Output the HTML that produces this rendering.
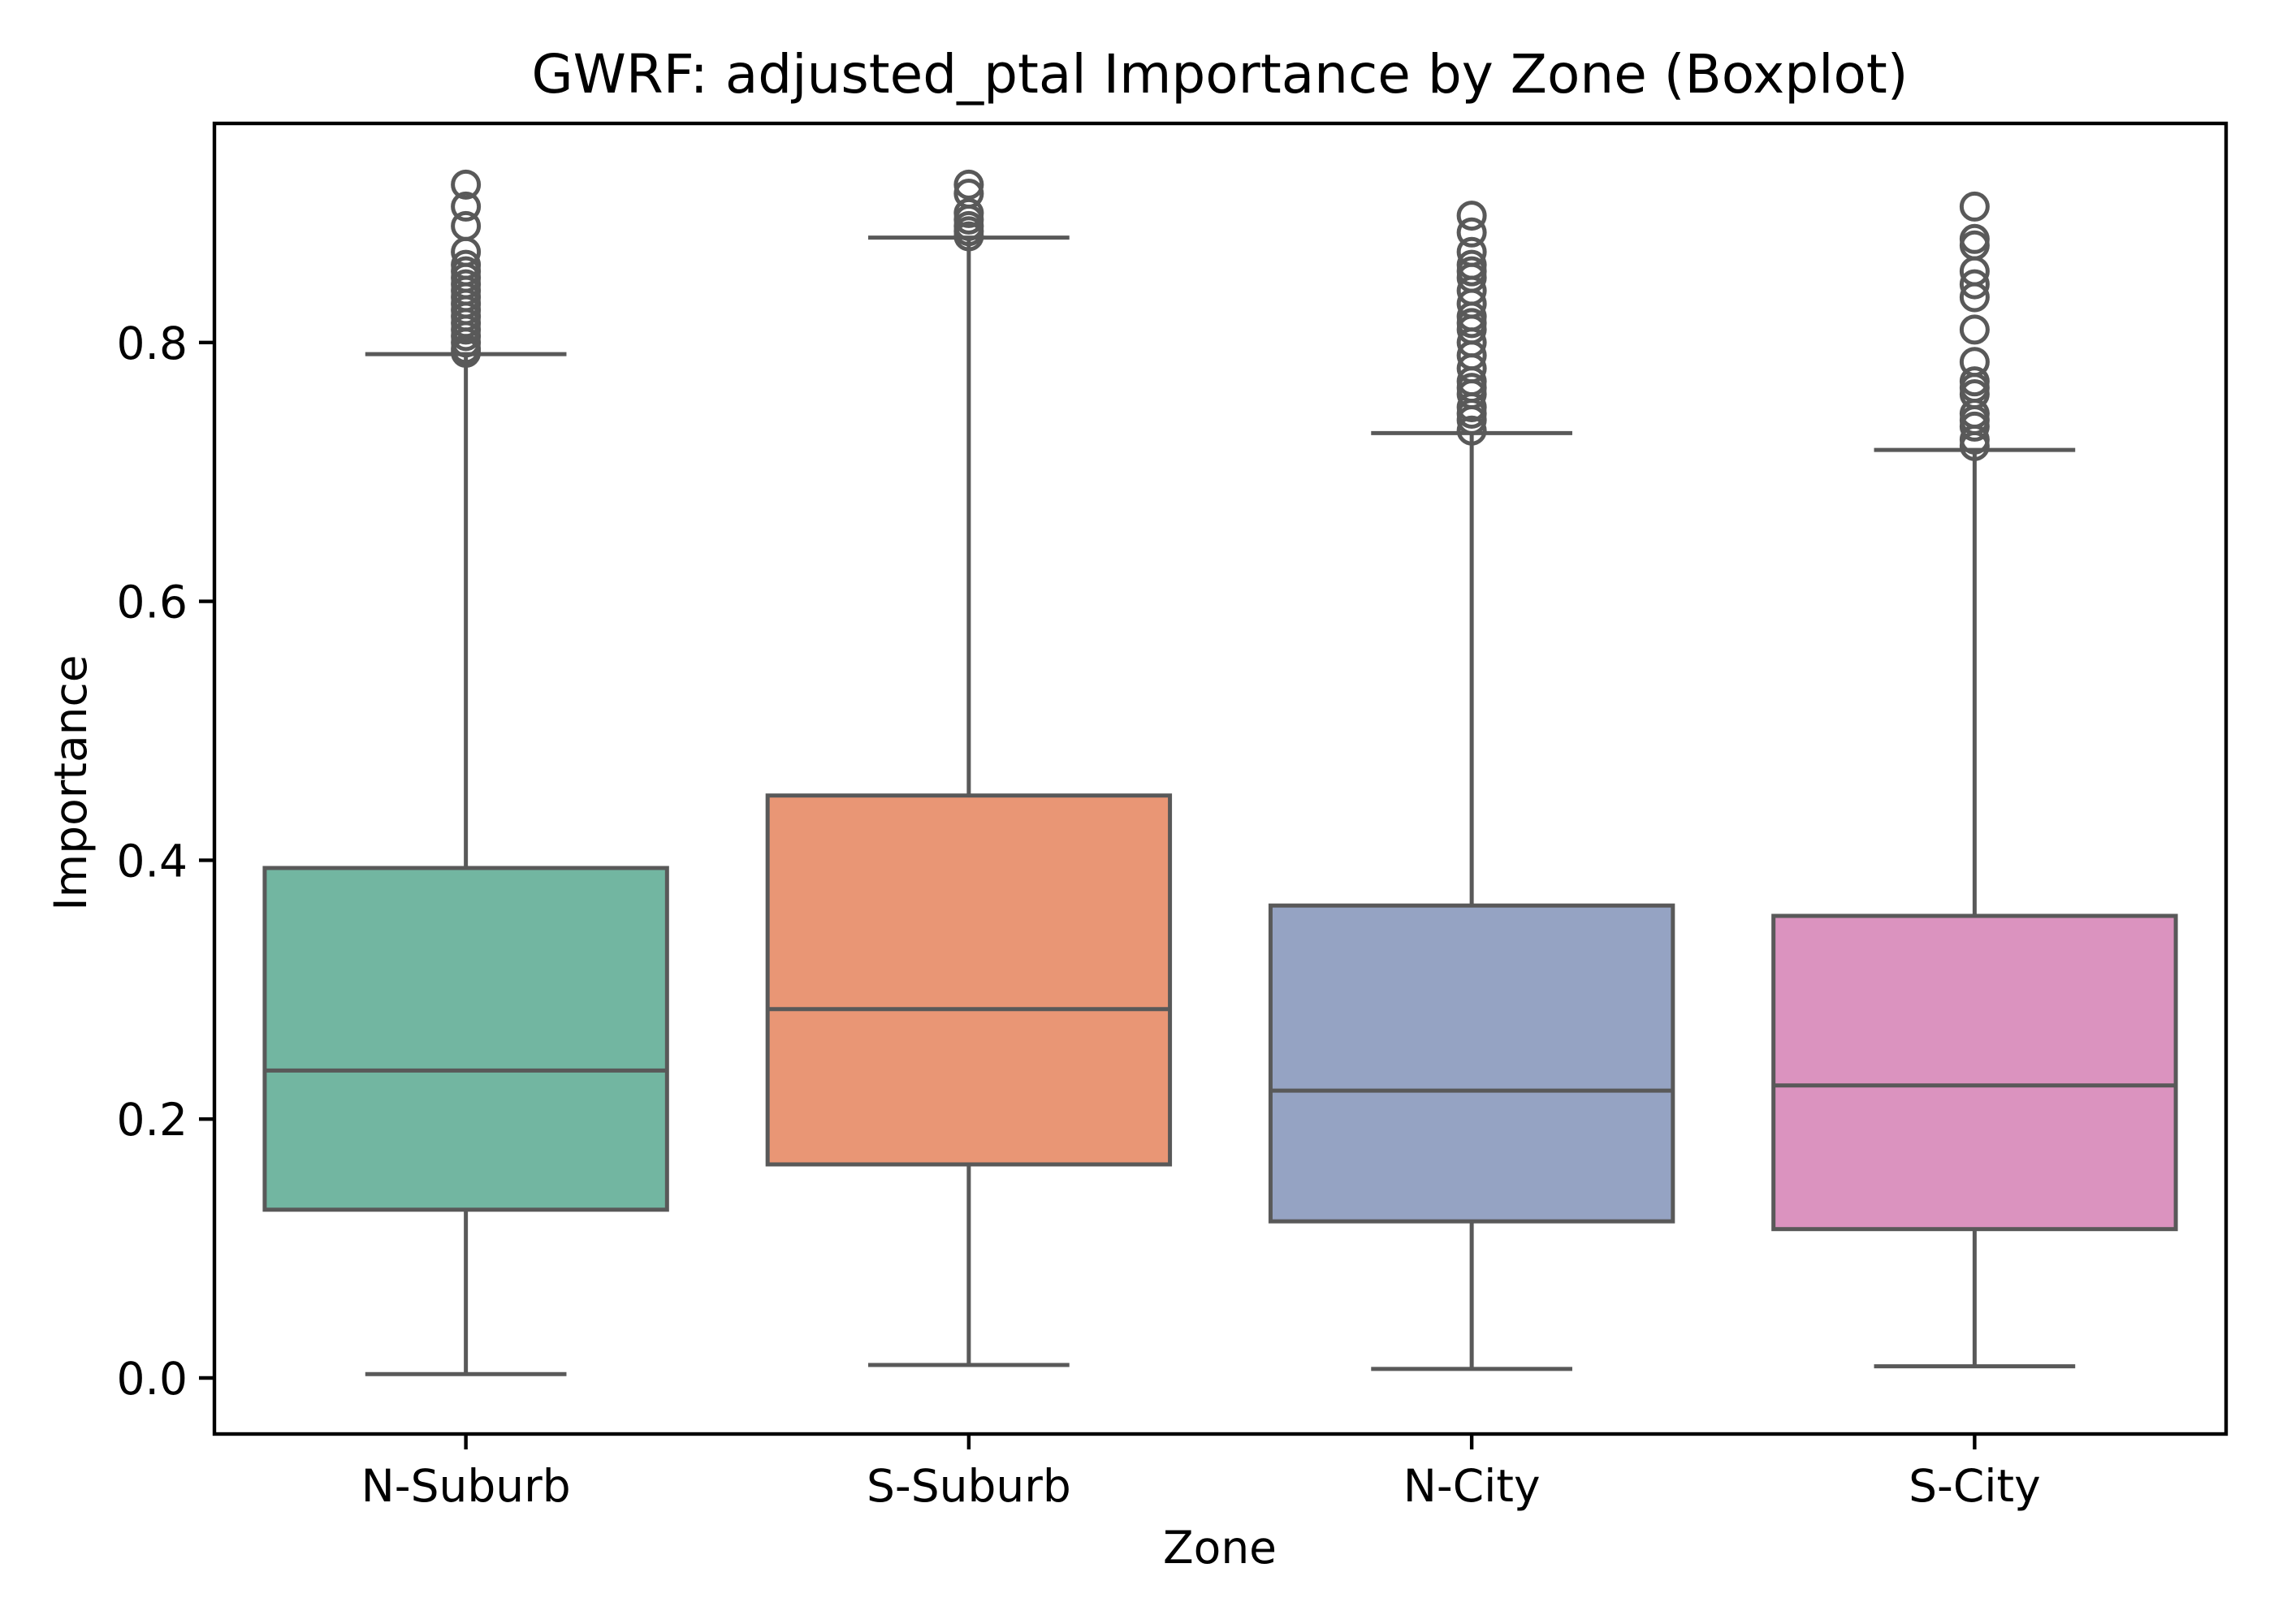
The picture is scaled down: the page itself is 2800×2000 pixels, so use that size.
<!DOCTYPE html>
<html><head><meta charset="utf-8"><style>
html,body{margin:0;padding:0;background:#fff}
svg{display:block;font-family:"DejaVu Sans","Liberation Sans",sans-serif}
</style></head><body>
<svg id="chart" width="2800" height="2000" viewBox="0 0 2800 2000" xmlns="http://www.w3.org/2000/svg">
<rect width="2800" height="2000" fill="#fff"/>
<text x="1502" y="114" font-size="66" text-anchor="middle" fill="#000">GWRF: adjusted_ptal Importance by Zone (Boxplot)</text>
<g id="plot"></g>
<rect x="264" y="152" width="2477" height="1614" fill="none" stroke="#000" stroke-width="4.4"/>
<g id="axes"></g>
<text x="0" y="0" font-size="55" text-anchor="middle" transform="translate(106,964) rotate(-90)" fill="#000">Importance</text>
<text x="1502" y="1925" font-size="55" text-anchor="middle" fill="#000">Zone</text>
</svg>
<script>
const categories = ["N-Suburb","S-Suburb","N-City","S-City"];
const whiskerLow = [0.003,0.010,0.007,0.009];
const q1 = [0.130,0.165,0.121,0.115];
const median = [0.2375,0.285,0.222,0.226];
const q3 = [0.394,0.450,0.365,0.357];
const whiskerHigh = [0.791,0.881,0.730,0.717];
const outliersNSuburb = [0.792,0.795,0.80,0.805,0.81,0.815,0.82,0.825,0.83,0.835,0.84,0.845,0.85,0.855,0.86,0.87,0.89,0.905,0.922];
const outliersSSuburb = [0.882,0.886,0.89,0.895,0.90,0.915,0.922];
const outliersNCity = [0.732,0.74,0.745,0.75,0.76,0.765,0.77,0.78,0.79,0.80,0.81,0.815,0.82,0.83,0.84,0.85,0.855,0.86,0.87,0.885,0.898];
const outliersSCity = [0.72,0.725,0.735,0.74,0.745,0.76,0.765,0.77,0.785,0.81,0.835,0.845,0.855,0.875,0.88,0.905];
const outliers = [outliersNSuburb,outliersSSuburb,outliersNCity,outliersSCity];
const yTicks = [0.0,0.2,0.4,0.6,0.8];
const yTickLabels = ["0.0","0.2","0.4","0.6","0.8"];
const colors = ["#72b6a1","#e99675","#95a3c3","#db93bf"];

const NS="http://www.w3.org/2000/svg";
const L=264,R=2741,T=152,B=1766;
const y0px=1697, pxPerUnit=1594;
function yScale(v){return y0px - v*pxPerUnit;}
const band=(R-L)/categories.length;
function xScale(i){return L + band*(i+0.5);}
const boxW=band*0.8, capW=band*0.4;
function mk(tag,attrs,parent){const e=document.createElementNS(NS,tag);for(const k in attrs)e.setAttribute(k,attrs[k]);parent.appendChild(e);return e;}
const plot=document.getElementById('plot');
const axes=document.getElementById('axes');
const edge="#595959", sw=5;
categories.forEach((c,i)=>{
  const cx=xScale(i);
  const g=mk('g',{},plot);
  
  
  let w=mk('line',{x1:cx,x2:cx,y1:yScale(whiskerLow[i]),y2:yScale(q1[i]),stroke:edge,'stroke-width':sw},g);
  
  
  w=mk('line',{x1:cx,x2:cx,y1:yScale(q3[i]),y2:yScale(whiskerHigh[i]),stroke:edge,'stroke-width':sw},g);
  
  
  let cp=mk('line',{x1:cx-capW/2,x2:cx+capW/2,y1:yScale(whiskerLow[i]),y2:yScale(whiskerLow[i]),stroke:edge,'stroke-width':sw},g);
  
  
  cp=mk('line',{x1:cx-capW/2,x2:cx+capW/2,y1:yScale(whiskerHigh[i]),y2:yScale(whiskerHigh[i]),stroke:edge,'stroke-width':sw},g);
  
  
  const bx=mk('rect',{x:cx-boxW/2,y:yScale(q3[i]),width:boxW,height:yScale(q1[i])-yScale(q3[i]),fill:colors[i],stroke:edge,'stroke-width':sw},g);
  
  
  const md=mk('line',{x1:cx-boxW/2,x2:cx+boxW/2,y1:yScale(median[i]),y2:yScale(median[i]),stroke:edge,'stroke-width':sw},g);
  
  
  outliers[i].forEach(v=>{
    const o=mk('ellipse',{cx:cx,cy:yScale(v),rx:16,ry:16,fill:"none",stroke:edge,'stroke-width':5},g);
    
    
  });
  const tk=mk('line',{x1:cx,x2:cx,y1:B,y2:B+19,stroke:'#000','stroke-width':4.4},axes);
  
  
  const tl=mk('text',{x:cx,y:1849,'font-size':55,'text-anchor':'middle',fill:'#000'},axes);
  tl.textContent=c;
  
  
});
yTicks.forEach((v,j)=>{
  const y=yScale(v);
  const tk=mk('line',{x1:L-19,x2:L,y1:y,y2:y,stroke:'#000','stroke-width':4.4},axes);
  
  
  const tl=mk('text',{x:L-33,y:y+20,'font-size':55,'text-anchor':'end',fill:'#000'},axes);
  tl.textContent=yTickLabels[j];
  
  
});
</script>
</body></html>
